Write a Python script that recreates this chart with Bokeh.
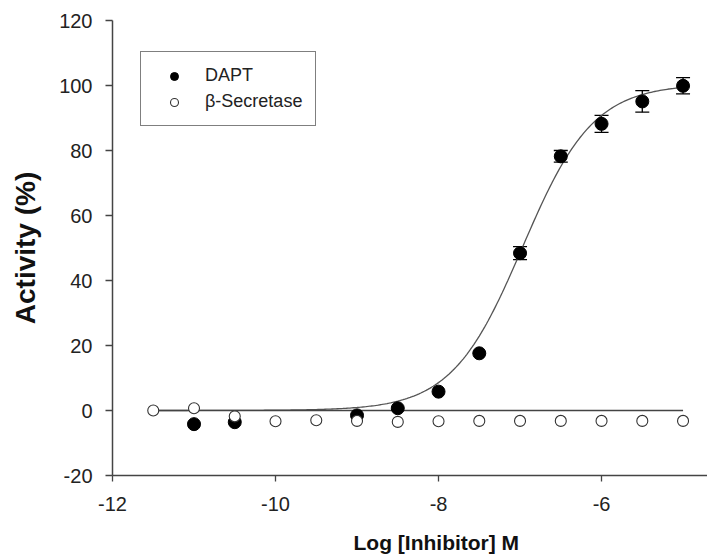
import numpy as np
from bokeh.plotting import figure
from bokeh.models import (Range1d, Legend, LegendItem, Whisker, TeeHead,
                          ColumnDataSource, FixedTicker, Title,
                          CustomJSTickFormatter)
from bokeh.embed import file_html
from bokeh.resources import INLINE

# ---- data ----
dapt_x = [-11.0, -10.5, -9.0, -8.5, -8.0, -7.5, -7.0, -6.5, -6.0, -5.5, -5.0]
dapt_y = [-4.2, -3.6, -1.5, 0.7, 5.8, 17.6, 48.4, 78.2, 88.2, 95.1, 99.9]
dapt_err = [0, 0, 0, 0, 0, 0, 2.0, 1.8, 2.6, 3.3, 2.5]

beta_x = [-11.5, -11.0, -10.5, -10.0, -9.5, -9.0, -8.5, -8.0, -7.5, -7.0, -6.5, -6.0, -5.5, -5.0]
beta_y = [0.0, 0.7, -1.8, -3.3, -3.0, -3.2, -3.5, -3.3, -3.2, -3.2, -3.2, -3.2, -3.2, -3.2]

# fitted dose-response parameters (DAPT) and flat fit (beta-secretase)
fit_bottom = 0.0
fit_top = 100.5
fit_log_ec50 = -6.97
fit_hill = 1.0
fit_x_start = -11.5
fit_x_end = -5.0
flat_level = 0.0

x_ticks = [-12, -10, -8, -6, -4]
y_ticks = [-20, 0, 20, 40, 60, 80, 100, 120]

FONT = "Liberation Sans"

p = figure(width=707, height=560, output_backend="svg", toolbar_location=None,
           x_range=Range1d(-12, -4.70), y_range=Range1d(-20, 120),
           min_border_left=112, min_border_top=20, min_border_bottom=85,
           min_border_right=0)
p.outline_line_color = None
p.grid.visible = False
p.background_fill_color = "white"

hyphen_fmt = "return tick.toString();"

# axes
for ax in (p.xaxis[0], p.yaxis[0]):
    ax.axis_line_color = "#444444"
    ax.axis_line_width = 1.5
    ax.major_tick_line_color = "#444444"
    ax.major_tick_line_width = 1.3
    ax.major_tick_in = 0
    ax.minor_tick_line_color = None
    ax.major_label_text_font = FONT
    ax.major_label_text_font_size = "20px"
    ax.major_label_text_color = "#222222"
    ax.formatter = CustomJSTickFormatter(code=hyphen_fmt)

p.xaxis.ticker = FixedTicker(ticks=x_ticks)
p.yaxis.ticker = FixedTicker(ticks=y_ticks)
p.xaxis.major_tick_out = 6
p.yaxis.major_tick_out = 7
p.xaxis.major_label_standoff = 15
p.yaxis.major_label_standoff = 13

# blank spacer label on x axis so the real title sits lower
p.xaxis.axis_label = " "
p.xaxis.axis_label_standoff = 0
p.xaxis.axis_label_text_font_size = "11px"

p.yaxis.axis_label = "Activity (%)"
p.yaxis.axis_label_text_font = FONT
p.yaxis.axis_label_text_font_style = "bold"
p.yaxis.axis_label_text_font_size = "28px"
p.yaxis.axis_label_text_color = "#111111"
p.yaxis.axis_label_standoff = 15

# x axis title: centred under x = -8 (the original axis runs past the crop)
p.add_layout(Title(text="Log [Inhibitor] M", align="left", offset=241,
                   text_font=FONT, text_font_style="bold",
                   text_font_size="21px", text_color="#111111",
                   standoff=0, vertical_align="bottom"), "below")

# fit lines
xs = np.linspace(fit_x_start, fit_x_end, 300)
ys = fit_bottom + (fit_top - fit_bottom) / (1 + 10 ** ((fit_log_ec50 - xs) * fit_hill))
p.line(xs, ys, line_color="#555555", line_width=1.3)
p.line([fit_x_start, fit_x_end], [flat_level, flat_level], line_color="#444444", line_width=1.5)

# error bars for DAPT
ex = [x for x, e in zip(dapt_x, dapt_err) if e > 0]
ey = [y for y, e in zip(dapt_y, dapt_err) if e > 0]
ee = [e for e in dapt_err if e > 0]
err_src = ColumnDataSource(dict(x=ex, lo=[y - e for y, e in zip(ey, ee)],
                                hi=[y + e for y, e in zip(ey, ee)]))
p.add_layout(Whisker(source=err_src, base="x", lower="lo", upper="hi",
                     line_color="black", line_width=1.3,
                     upper_head=TeeHead(size=14, line_color="black", line_width=1.3),
                     lower_head=TeeHead(size=14, line_color="black", line_width=1.3)))

r_dapt = p.scatter(dapt_x, dapt_y, marker="circle", size=13,
                   fill_color="black", line_color="black", line_width=1)
r_beta = p.scatter(beta_x, beta_y, marker="circle", size=11,
                   fill_color="white", line_color="#333333", line_width=1.1)

legend = Legend(items=[LegendItem(label="DAPT", renderers=[r_dapt]),
                       LegendItem(label="β-Secretase", renderers=[r_beta])],
                location=(28, 349), orientation="vertical",
                border_line_color="black", border_line_width=1,
                background_fill_color="white", background_fill_alpha=1,
                label_text_font=FONT, label_text_font_size="18px",
                label_text_color="#222222",
                padding=13, spacing=5, margin=0,
                glyph_width=40, glyph_height=20, label_height=20,
                label_standoff=11)
p.add_layout(legend)

open("out.html", "w").write(file_html(p, INLINE))
